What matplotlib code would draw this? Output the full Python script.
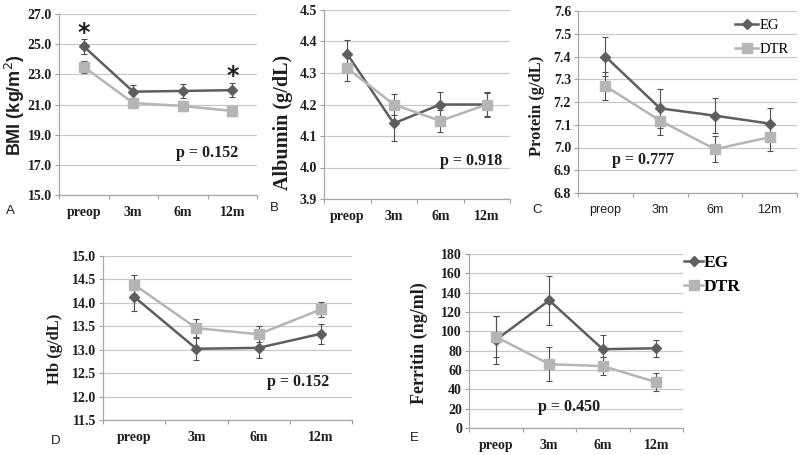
import matplotlib
matplotlib.use("Agg")
import matplotlib.pyplot as plt
from matplotlib.ticker import FixedLocator, NullFormatter

categories = ["preop", "3m", "6m", "12m"]

bmi_eg = [24.85, 21.85, 21.9, 21.95]
bmi_eg_err = [0.47, 0.45, 0.45, 0.48]
bmi_dtr = [23.5, 21.1, 20.9, 20.57]
bmi_dtr_err = [0.4, 0.3, 0.32, 0.35]

alb_eg = [4.36, 4.14, 4.2, 4.2]
alb_eg_err = [0.045, 0.057, 0.04, 0.035]
alb_dtr = [4.315, 4.2, 4.148, 4.2]
alb_dtr_err = [0.04, 0.033, 0.035, 0.04]

prot_eg = [7.40, 7.172, 7.14, 7.105]
prot_eg_err = [0.085, 0.085, 0.078, 0.07]
prot_dtr = [7.27, 7.118, 6.993, 7.045]
prot_dtr_err = [0.06, 0.062, 0.058, 0.062]

hb_eg = [14.13, 13.02, 13.04, 13.34]
hb_eg_err = [0.3, 0.23, 0.22, 0.21]
hb_dtr = [14.39, 13.46, 13.33, 13.86]
hb_dtr_err = [0.2, 0.19, 0.17, 0.16]

fer_eg = [91.0, 132.0, 81.5, 82.5]
fer_eg_err = [24.5, 25.5, 14.5, 9.0]
fer_dtr = [94.5, 66.0, 64.0, 47.5]
fer_dtr_err = [21.0, 17.5, 9.5, 9.5]

W, H = 800, 455
fig = plt.figure(figsize=(8, 4.55), dpi=100)
fig.patch.set_facecolor("white")

EG_C = "#5e5e5e"
DTR_C = "#b5b5b5"
ERR_C = "#505050"
GRID_C = "#c9c9c9"
TXT_C = "#1e1e1e"
SERIF = "Liberation Serif"
SANS = "Liberation Sans"


def make_ax(left, right, top, bottom):
    return fig.add_axes([left / W, (H - bottom) / H, (right - left) / W, (bottom - top) / H])


def panel(box, eg, eg_err, dtr, dtr_err, ylim, yticks, yfmt, ylabel, ylabel_font,
          xfont, xweight, xsize, letter, letter_xy, ptext, pxy, ylabel_xy, ylabel_size=13):
    ax = make_ax(*box)
    x = list(range(len(categories)))
    ax.errorbar(x, eg, yerr=eg_err, fmt="none", ecolor=ERR_C, elinewidth=0.8,
                capsize=2.2, capthick=0.8, zorder=3)
    ax.errorbar(x, dtr, yerr=dtr_err, fmt="none", ecolor=ERR_C, elinewidth=0.8,
                capsize=2.2, capthick=0.8, zorder=3)
    ax.plot(x, eg, color=EG_C, lw=1.8, marker="D", ms=5, mfc=EG_C, mec=EG_C,
            label="EG", zorder=4)
    ax.plot(x, dtr, color=DTR_C, lw=1.8, marker="s", ms=7, mfc=DTR_C, mec=DTR_C,
            label="DTR", zorder=4)
    ax.set_xlim(-0.5, 3.5)
    ax.set_ylim(*ylim)
    ax.set_yticks(yticks)
    ax.set_yticklabels([yfmt.format(v) for v in yticks], fontfamily=SERIF,
                       fontweight="bold", fontsize=10, color=TXT_C)
    ax.yaxis.grid(True, color=GRID_C, lw=0.9)
    ax.set_axisbelow(True)
    ax.xaxis.set_major_locator(FixedLocator([-0.5, 0.5, 1.5, 2.5, 3.5]))
    ax.xaxis.set_major_formatter(NullFormatter())
    ax.set_xticks(x, minor=True)
    ax.set_xticklabels(categories, minor=True, fontfamily=xfont, fontweight=xweight,
                       fontsize=xsize, color=TXT_C)
    ax.tick_params(axis="x", which="minor", length=0, pad=8)
    ax.tick_params(axis="x", which="major", length=3, color="#a0a0a0")
    ax.tick_params(axis="y", length=3, color="#a0a0a0", pad=2)
    for s in ("top", "right"):
        ax.spines[s].set_visible(False)
    for s in ("left", "bottom"):
        ax.spines[s].set_color("#a8a8a8")
        ax.spines[s].set_linewidth(0.9)
    fig.text(ylabel_xy[0] / W, 1 - ylabel_xy[1] / H, ylabel, rotation=90,
             ha="center", va="center", fontfamily=ylabel_font, fontweight="bold",
             fontsize=ylabel_size, color=TXT_C)
    fig.text(letter_xy[0] / W, 1 - letter_xy[1] / H, letter, fontfamily=SANS,
             fontsize=9.5, ha="left", va="center", color=TXT_C)
    fig.text(pxy[0] / W, 1 - pxy[1] / H, ptext, fontfamily=SERIF, fontweight="bold",
             fontsize=11.5, ha="center", va="center", color=TXT_C)
    return ax


axA = panel((59, 257, 14, 195), bmi_eg, bmi_eg_err, bmi_dtr, bmi_dtr_err,
            (15, 27), [15, 17, 19, 21, 23, 25, 27], "{:.1f}", "BMI (kg/m$^2$)", SANS,
            SERIF, "bold", 10, "A", (6, 211), "p = 0.152", (207, 153), (15, 105), 13)
for xi, yv, ev in [(0, bmi_eg[0], bmi_eg_err[0]), (3, bmi_eg[3], bmi_eg_err[3])]:
    axA.text(xi, yv + ev - 0.35, "*", ha="center", va="bottom", fontsize=17,
             fontweight="bold", fontfamily="DejaVu Sans", color=TXT_C)

panel((324, 510, 10, 199), alb_eg, alb_eg_err, alb_dtr, alb_dtr_err,
      (3.9, 4.5), [3.9, 4.0, 4.1, 4.2, 4.3, 4.4, 4.5], "{:.1f}", "Albumin (g/dL)", SERIF,
      SERIF, "bold", 10, "B", (270, 208), "p = 0.918", (471, 161), (283, 122), 14.5)

axC = panel((578, 797, 11, 193), prot_eg, prot_eg_err, prot_dtr, prot_dtr_err,
            (6.8, 7.6), [6.8, 6.9, 7.0, 7.1, 7.2, 7.3, 7.4, 7.5, 7.6], "{:.1f}",
            "Protein (g/dL)", SERIF, SANS, "normal", 9, "C", (532, 210), "p = 0.777",
            (643, 160), (537, 106), 12)
axC.legend(loc="upper left", bbox_to_anchor=(735 / W, 1 - 19 / H),
           bbox_transform=fig.transFigure, frameon=False,
           prop={"family": SERIF, "size": 10.5}, handlelength=1.6, handletextpad=0.1,
           labelspacing=0.75, borderaxespad=0.0, borderpad=0.0)

panel((103, 352, 256, 420), hb_eg, hb_eg_err, hb_dtr, hb_dtr_err,
      (11.5, 15.0), [11.5, 12.0, 12.5, 13.0, 13.5, 14.0, 14.5, 15.0], "{:.1f}",
      "Hb (g/dL)", SERIF, SERIF, "bold", 10, "D", (51, 441), "p = 0.152", (298, 382),
      (55, 349), 12)

axE = panel((469, 683, 254, 428), fer_eg, fer_eg_err, fer_dtr, fer_dtr_err,
            (0, 180), list(range(0, 181, 20)), "{:d}", "Ferritin (ng/ml)", SERIF,
            SERIF, "bold", 10, "E", (410, 438), "p = 0.450", (569, 407), (419, 343), 13)
axE.legend(loc="upper left", bbox_to_anchor=(684 / W, 1 - 255 / H),
           bbox_transform=fig.transFigure, frameon=False,
           prop={"family": SERIF, "size": 12.5, "weight": "bold"}, handlelength=1.1,
           handletextpad=0.05, labelspacing=0.45, borderaxespad=0.0, borderpad=0.0)

fig.savefig("out.png", dpi=100, facecolor="white")
